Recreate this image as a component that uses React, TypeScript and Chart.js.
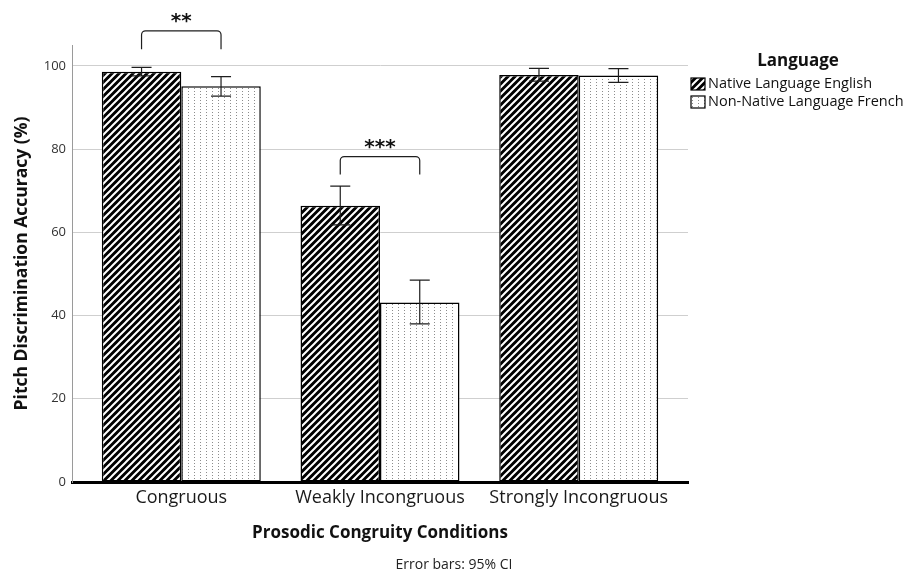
import { useEffect, useRef } from 'react';
import { Chart, registerables } from 'chart.js';

Chart.register(...registerables);

const categories = ['Congruous', 'Weakly Incongruous', 'Strongly Incongruous'];
const seriesLabels = ['Native Language English', 'Non-Native Language French'];
const englishMeans = [98.6, 66.4, 97.8];
const englishLow = [97.6, 61.8, 96.3];
const englishHigh = [99.6, 71.1, 99.4];
const frenchMeans = [95.1, 43.1, 97.7];
const frenchLow = [92.7, 38.0, 96.0];
const frenchHigh = [97.4, 48.5, 99.3];
const yTicks = [0, 20, 40, 60, 80, 100];
const sigCategories = [0, 1];
const sigLabels = ['**', '***'];
const sigLegBottom = [104.0, 73.9];
const sigTop = [108.4, 78.2];
const legendTitle = 'Language';
const xTitle = 'Prosodic Congruity Conditions';
const yTitle = 'Pitch Discrimination Accuracy (%)';
const footnote = 'Error bars: 95% CI';

function makeStripes(): CanvasPattern | string {
  const c = document.createElement('canvas');
  c.width = 7;
  c.height = 7;
  const g = c.getContext('2d');
  if (!g) return '#000';
  g.fillStyle = '#000';
  g.fillRect(0, 0, 7, 7);
  g.strokeStyle = '#fff';
  g.lineWidth = 2;
  g.beginPath();
  for (const k of [-7, 0, 7]) {
    g.moveTo(k - 1, 8);
    g.lineTo(k + 8, -1);
  }
  g.stroke();
  return g.createPattern(c, 'repeat') || '#000';
}

function makeDots(): CanvasPattern | string {
  const c = document.createElement('canvas');
  c.width = 6;
  c.height = 3;
  const g = c.getContext('2d');
  if (!g) return '#fff';
  g.fillStyle = '#fff';
  g.fillRect(0, 0, 6, 3);
  g.fillStyle = '#8c8c8c';
  g.fillRect(2, 1, 1, 1);
  return g.createPattern(c, 'repeat') || '#fff';
}

export default function App() {
  const ref = useRef<HTMLCanvasElement | null>(null);

  useEffect(() => {
    document.body.style.margin = '0';
    const canvas = ref.current;
    if (!canvas) return;
    const stripes = makeStripes();
    const dots = makeDots();
    const fills = [stripes, dots];
    const lows = [englishLow, frenchLow];
    const highs = [englishHigh, frenchHigh];

    const overlay = {
      id: 'overlay',
      afterDatasetsDraw(chart: any) {
        const ctx = chart.ctx;
        const y = chart.scales.y;
        ctx.save();
        ctx.strokeStyle = '#1e1e1e';
        ctx.lineWidth = 1.2;
        chart.data.datasets.forEach((_: any, di: number) => {
          const meta = chart.getDatasetMeta(di);
          meta.data.forEach((bar: any, i: number) => {
            const x = bar.x;
            const yl = y.getPixelForValue(lows[di][i]);
            const yh = y.getPixelForValue(highs[di][i]);
            ctx.beginPath();
            ctx.moveTo(x, yl);
            ctx.lineTo(x, yh);
            ctx.moveTo(x - 10, yl);
            ctx.lineTo(x + 10, yl);
            ctx.moveTo(x - 10, yh);
            ctx.lineTo(x + 10, yh);
            ctx.stroke();
          });
        });
        ctx.restore();
      },
      afterDraw(chart: any) {
        const ctx = chart.ctx;
        const y = chart.scales.y;
        const area = chart.chartArea;
        ctx.save();
        // significance brackets
        ctx.strokeStyle = '#1e1e1e';
        ctx.lineWidth = 1.2;
        const m0 = chart.getDatasetMeta(0);
        const m1 = chart.getDatasetMeta(1);
        sigCategories.forEach((cat, k) => {
          const x0 = m0.data[cat].x;
          const x1 = m1.data[cat].x;
          const yt = y.getPixelForValue(sigTop[k]);
          const yb = y.getPixelForValue(sigLegBottom[k]);
          const r = 4;
          ctx.beginPath();
          ctx.moveTo(x0, yb);
          ctx.lineTo(x0, yt + r);
          ctx.arcTo(x0, yt, x0 + r, yt, r);
          ctx.lineTo(x1 - r, yt);
          ctx.arcTo(x1, yt, x1, yt + r, r);
          ctx.lineTo(x1, yb);
          ctx.stroke();
          ctx.fillStyle = '#111';
          ctx.font = 'bold 20px "DejaVu Sans"';
          ctx.textAlign = 'center';
          ctx.textBaseline = 'alphabetic';
          ctx.fillText(sigLabels[k], (x0 + x1) / 2, yt - 4);
        });

        // legend
        const lx = area.right + 3;
        ctx.fillStyle = '#111';
        ctx.font = 'bold 17px "Open Sans"';
        ctx.textAlign = 'center';
        ctx.textBaseline = 'middle';
        ctx.fillText(legendTitle, 798, 61);
        seriesLabels.forEach((lab, i) => {
          const cy = 84 + i * 18;
          ctx.fillStyle = fills[i] as any;
          ctx.fillRect(lx, cy - 6, 14, 12);
          ctx.strokeStyle = '#000';
          ctx.lineWidth = 1.2;
          ctx.strokeRect(lx, cy - 6, 14, 12);
          ctx.fillStyle = '#111';
          ctx.font = '14.5px "Open Sans"';
          ctx.textAlign = 'left';
          ctx.textBaseline = 'middle';
          ctx.fillText(lab, lx + 17, cy);
        });

        // footnote
        ctx.fillStyle = '#222';
        ctx.font = '14px "Open Sans"';
        ctx.textAlign = 'center';
        ctx.textBaseline = 'middle';
        ctx.fillText(footnote, chart.width / 2, 565);
        ctx.restore();
      },
    };

    const chart = new Chart(canvas, {
      type: 'bar',
      data: {
        datasets: [
          {
            label: seriesLabels[0],
            data: englishMeans.map((v, i) => ({ x: i, y: v })),
            backgroundColor: stripes as any,
            borderColor: '#000',
            borderWidth: 1.5,
            borderSkipped: false,
          },
          {
            label: seriesLabels[1],
            data: frenchMeans.map((v, i) => ({ x: i, y: v })),
            backgroundColor: dots as any,
            borderColor: '#000',
            borderWidth: 1.5,
            borderSkipped: false,
          },
        ],
      },
      options: {
        responsive: false,
        animation: false,
        categoryPercentage: 0.8,
        barPercentage: 1.0,
        layout: { padding: { top: 45, right: 220, bottom: 24, left: 0 } },
        plugins: {
          legend: { display: false },
          tooltip: { enabled: false },
          title: { display: false },
        },
        scales: {
          x: {
            type: 'linear',
            offset: false,
            min: -0.55,
            max: 2.55,
            afterBuildTicks: (s: any) => {
              s.ticks = categories.map((_, i) => ({ value: i }));
            },
            afterFit: (s: any) => {
              s.height = 67;
            },
            grid: { display: false, drawTicks: false, offset: false },
            border: { display: true, color: '#000', width: 3 },
            ticks: {
              padding: 5,
              color: '#1a1a1a',
              font: { family: 'Open Sans', size: 18 },
              callback: (v: any) => categories[v] ?? '',
              maxRotation: 0,
              autoSkip: false,
            },
            title: {
              display: true,
              text: xTitle,
              color: '#111',
              font: { family: 'Open Sans', size: 17, weight: 'bold' },
              padding: { top: 0, bottom: 6 },
            },
          },
          y: {
            min: 0,
            max: 105,
            afterBuildTicks: (s: any) => {
              s.ticks = yTicks.map((v) => ({ value: v }));
            },
            afterFit: (s: any) => {
              s.width = 72;
            },
            grid: { color: '#cfcfcf', lineWidth: 1, drawTicks: false },
            border: { display: true, color: '#9a9a9a', width: 1 },
            ticks: {
              padding: 6,
              color: '#333',
              font: { family: 'Open Sans', size: 13 },
            },
            title: {
              display: true,
              text: yTitle,
              color: '#111',
              font: { family: 'Open Sans', size: 17.5, weight: 'bold' },
              padding: { top: 12, bottom: 0 },
            },
          },
        },
      },
      plugins: [overlay],
    });
    return () => chart.destroy();
  }, []);

  return (
    <div style={{ width: 908, height: 573 }}>
      <canvas ref={ref} width={908} height={573} style={{ display: 'block' }} />
    </div>
  );
}
